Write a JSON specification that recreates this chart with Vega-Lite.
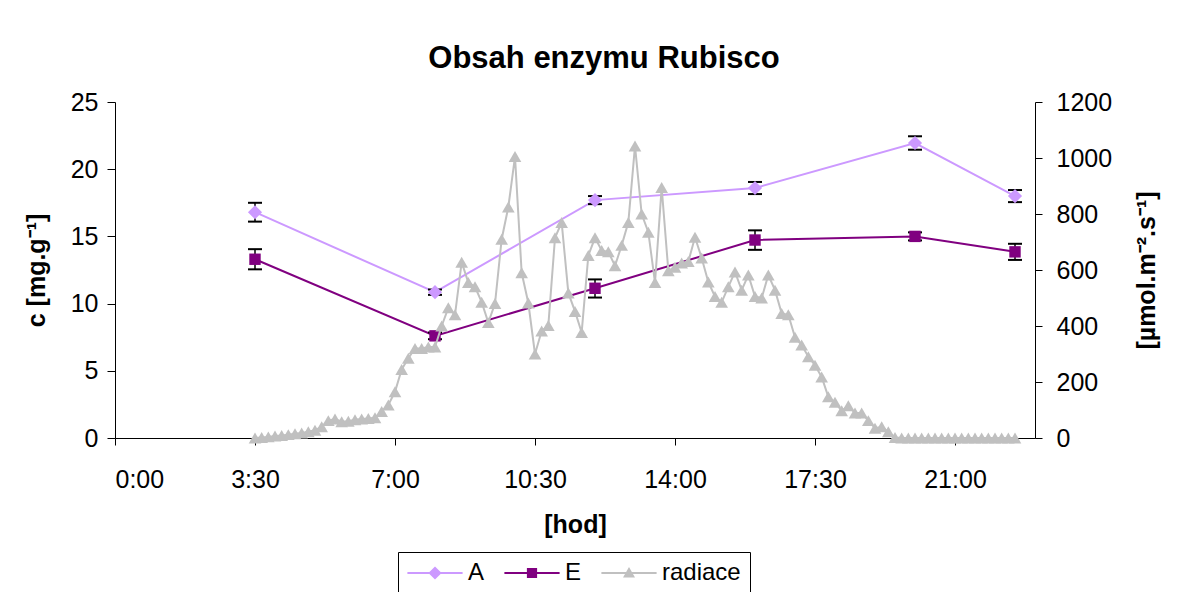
{
  "$schema": "https://vega.github.io/schema/vega-lite/v6.json",
  "width": 920,
  "height": 336,
  "autosize": {"type": "none"},
  "padding": {"left": 115, "top": 102, "right": 147, "bottom": 154},
  "background": "white",
  "title": {"text": "Obsah enzymu Rubisco", "fontSize": 31, "fontWeight": "bold", "font": "Liberation Sans", "color": "black", "anchor": "middle", "dx": 29, "offset": 15},
  "datasets": {
    "rub": [
      {"t": 210, "series": "A", "c": 16.8, "lo": 16.1, "hi": 17.5},
      {"t": 480, "series": "A", "c": 10.85, "lo": 10.65, "hi": 11.05},
      {"t": 720, "series": "A", "c": 17.7, "lo": 17.4, "hi": 18.0},
      {"t": 960, "series": "A", "c": 18.6, "lo": 18.15, "hi": 19.05},
      {"t": 1200, "series": "A", "c": 21.95, "lo": 21.45, "hi": 22.45},
      {"t": 1350, "series": "A", "c": 18.0, "lo": 17.55, "hi": 18.45},
      {"t": 210, "series": "E", "c": 13.3, "lo": 12.55, "hi": 14.05},
      {"t": 480, "series": "E", "c": 7.6, "lo": 7.35, "hi": 7.85},
      {"t": 720, "series": "E", "c": 11.14, "lo": 10.45, "hi": 11.8},
      {"t": 960, "series": "E", "c": 14.73, "lo": 14.0, "hi": 15.45},
      {"t": 1200, "series": "E", "c": 15.0, "lo": 14.7, "hi": 15.3},
      {"t": 1350, "series": "E", "c": 13.85, "lo": 13.25, "hi": 14.45}
    ],
    "rad": [
      {"t": 210, "series": "radiace", "r": 0},
      {"t": 220, "series": "radiace", "r": 2},
      {"t": 230, "series": "radiace", "r": 4},
      {"t": 240, "series": "radiace", "r": 7},
      {"t": 250, "series": "radiace", "r": 9},
      {"t": 260, "series": "radiace", "r": 12},
      {"t": 270, "series": "radiace", "r": 15},
      {"t": 280, "series": "radiace", "r": 18},
      {"t": 290, "series": "radiace", "r": 22},
      {"t": 300, "series": "radiace", "r": 28},
      {"t": 310, "series": "radiace", "r": 40},
      {"t": 320, "series": "radiace", "r": 62},
      {"t": 330, "series": "radiace", "r": 68},
      {"t": 340, "series": "radiace", "r": 58},
      {"t": 350, "series": "radiace", "r": 60},
      {"t": 360, "series": "radiace", "r": 65},
      {"t": 370, "series": "radiace", "r": 68},
      {"t": 380, "series": "radiace", "r": 70},
      {"t": 390, "series": "radiace", "r": 72},
      {"t": 400, "series": "radiace", "r": 95},
      {"t": 410, "series": "radiace", "r": 118},
      {"t": 420, "series": "radiace", "r": 165},
      {"t": 430, "series": "radiace", "r": 245},
      {"t": 440, "series": "radiace", "r": 285},
      {"t": 450, "series": "radiace", "r": 320},
      {"t": 460, "series": "radiace", "r": 320},
      {"t": 470, "series": "radiace", "r": 325},
      {"t": 480, "series": "radiace", "r": 325},
      {"t": 490, "series": "radiace", "r": 400},
      {"t": 500, "series": "radiace", "r": 465},
      {"t": 510, "series": "radiace", "r": 440},
      {"t": 520, "series": "radiace", "r": 628},
      {"t": 530, "series": "radiace", "r": 555},
      {"t": 540, "series": "radiace", "r": 540},
      {"t": 550, "series": "radiace", "r": 485},
      {"t": 560, "series": "radiace", "r": 412},
      {"t": 570, "series": "radiace", "r": 480},
      {"t": 580, "series": "radiace", "r": 710},
      {"t": 590, "series": "radiace", "r": 825},
      {"t": 600, "series": "radiace", "r": 1005},
      {"t": 610, "series": "radiace", "r": 590},
      {"t": 620, "series": "radiace", "r": 482},
      {"t": 630, "series": "radiace", "r": 300},
      {"t": 640, "series": "radiace", "r": 382},
      {"t": 650, "series": "radiace", "r": 402},
      {"t": 660, "series": "radiace", "r": 715},
      {"t": 670, "series": "radiace", "r": 770},
      {"t": 680, "series": "radiace", "r": 518},
      {"t": 690, "series": "radiace", "r": 452},
      {"t": 700, "series": "radiace", "r": 377},
      {"t": 710, "series": "radiace", "r": 652},
      {"t": 720, "series": "radiace", "r": 715},
      {"t": 730, "series": "radiace", "r": 670},
      {"t": 740, "series": "radiace", "r": 665},
      {"t": 750, "series": "radiace", "r": 615},
      {"t": 760, "series": "radiace", "r": 688},
      {"t": 770, "series": "radiace", "r": 770},
      {"t": 780, "series": "radiace", "r": 1043},
      {"t": 790, "series": "radiace", "r": 800},
      {"t": 800, "series": "radiace", "r": 735},
      {"t": 810, "series": "radiace", "r": 555},
      {"t": 820, "series": "radiace", "r": 895},
      {"t": 830, "series": "radiace", "r": 597},
      {"t": 840, "series": "radiace", "r": 610},
      {"t": 850, "series": "radiace", "r": 625},
      {"t": 860, "series": "radiace", "r": 630},
      {"t": 870, "series": "radiace", "r": 717},
      {"t": 880, "series": "radiace", "r": 643},
      {"t": 890, "series": "radiace", "r": 557},
      {"t": 900, "series": "radiace", "r": 505},
      {"t": 910, "series": "radiace", "r": 485},
      {"t": 920, "series": "radiace", "r": 540},
      {"t": 930, "series": "radiace", "r": 593},
      {"t": 940, "series": "radiace", "r": 528},
      {"t": 950, "series": "radiace", "r": 582},
      {"t": 960, "series": "radiace", "r": 505},
      {"t": 970, "series": "radiace", "r": 500},
      {"t": 980, "series": "radiace", "r": 582},
      {"t": 990, "series": "radiace", "r": 528},
      {"t": 1000, "series": "radiace", "r": 445},
      {"t": 1010, "series": "radiace", "r": 440},
      {"t": 1020, "series": "radiace", "r": 360},
      {"t": 1030, "series": "radiace", "r": 332},
      {"t": 1040, "series": "radiace", "r": 290},
      {"t": 1050, "series": "radiace", "r": 260},
      {"t": 1060, "series": "radiace", "r": 218},
      {"t": 1070, "series": "radiace", "r": 147},
      {"t": 1080, "series": "radiace", "r": 128},
      {"t": 1090, "series": "radiace", "r": 97},
      {"t": 1100, "series": "radiace", "r": 115},
      {"t": 1110, "series": "radiace", "r": 89},
      {"t": 1120, "series": "radiace", "r": 89},
      {"t": 1130, "series": "radiace", "r": 62},
      {"t": 1140, "series": "radiace", "r": 35},
      {"t": 1150, "series": "radiace", "r": 40},
      {"t": 1160, "series": "radiace", "r": 22},
      {"t": 1170, "series": "radiace", "r": 2},
      {"t": 1180, "series": "radiace", "r": 0},
      {"t": 1190, "series": "radiace", "r": 0},
      {"t": 1200, "series": "radiace", "r": 0},
      {"t": 1210, "series": "radiace", "r": 0},
      {"t": 1220, "series": "radiace", "r": 0},
      {"t": 1230, "series": "radiace", "r": 0},
      {"t": 1240, "series": "radiace", "r": 0},
      {"t": 1250, "series": "radiace", "r": 0},
      {"t": 1260, "series": "radiace", "r": 0},
      {"t": 1270, "series": "radiace", "r": 0},
      {"t": 1280, "series": "radiace", "r": 0},
      {"t": 1290, "series": "radiace", "r": 0},
      {"t": 1300, "series": "radiace", "r": 0},
      {"t": 1310, "series": "radiace", "r": 0},
      {"t": 1320, "series": "radiace", "r": 0},
      {"t": 1330, "series": "radiace", "r": 0},
      {"t": 1340, "series": "radiace", "r": 0},
      {"t": 1350, "series": "radiace", "r": 0}
    ]
  },
  "layer": [
    {
      "data": {"name": "rub"},
      "encoding": {
        "x": {
          "field": "t", "type": "quantitative",
          "scale": {"domain": [0, 1380], "nice": false, "zero": false},
          "axis": {
            "orient": "bottom", "values": [0, 210, 420, 630, 840, 1050, 1260],
            "labelExpr": "floor(datum.value / 60) + ':' + (datum.value % 60 == 0 ? '00' : '30')",
            "title": "[hod]", "tickSize": 7, "labelPadding": 22, "titlePadding": 20
          }
        }
      },
      "layer": [
        {
          "transform": [{"filter": "datum.t < 0"}],
          "mark": {"type": "point", "filled": true, "opacity": 1},
          "encoding": {
            "y": {"field": "c", "type": "quantitative"},
            "color": {
              "field": "series", "type": "nominal",
              "scale": {"domain": ["A", "E", "radiace"], "range": ["#CC99FF", "#800080", "#C0C0C0"]},
              "legend": {
                "orient": "none", "legendX": 283, "legendY": 450, "direction": "horizontal", "title": null,
                "labelFontSize": 24, "labelFont": "Liberation Sans", "labelColor": "black",
                "symbolSize": 144, "symbolOffset": 16, "labelOffset": 21, "columnPadding": 19, "padding": 9,
                "strokeColor": "black", "fillColor": "white", "symbolStrokeWidth": 0, "symbolOpacity": 1
              }
            },
            "shape": {
              "field": "series", "type": "nominal",
              "scale": {"domain": ["A", "E", "radiace"], "range": [
                "M-4.6,-0.17H4.6V0.17H-4.6Z M0,-1.1L1.1,0L0,1.1L-1.1,0Z",
                "M-4.6,-0.17H4.6V0.17H-4.6Z M-0.85,-0.85H0.85V0.85H-0.85Z",
                "M-4.6,-0.17H4.6V0.17H-4.6Z M0,-1L1,0.75H-1Z"
              ]},
              "legend": {
                "orient": "none", "legendX": 283, "legendY": 450, "direction": "horizontal", "title": null,
                "labelFontSize": 24, "labelFont": "Liberation Sans", "labelColor": "black",
                "symbolSize": 144, "symbolOffset": 16, "labelOffset": 21, "columnPadding": 19, "padding": 9,
                "strokeColor": "black", "fillColor": "white", "symbolStrokeWidth": 0, "symbolOpacity": 1
              }
            }
          }
        },
        {
          "mark": {"type": "line", "strokeWidth": 2},
          "encoding": {
            "y": {
              "field": "c", "type": "quantitative",
              "scale": {"domain": [0, 25], "nice": false},
              "axis": {"orient": "left", "values": [0, 5, 10, 15, 20, 25], "title": "c [mg.g⁻¹]", "tickSize": 8, "labelPadding": 9, "titlePadding": 21}
            },
            "color": {"field": "series", "type": "nominal"}
          }
        },
        {
          "mark": {"type": "rule", "color": "black", "strokeWidth": 1.5},
          "encoding": {
            "y": {"field": "lo", "type": "quantitative"},
            "y2": {"field": "hi"}
          }
        },
        {
          "mark": {"type": "tick", "orient": "horizontal", "color": "black", "size": 14, "thickness": 2, "opacity": 1},
          "encoding": {"y": {"field": "lo", "type": "quantitative"}}
        },
        {
          "mark": {"type": "tick", "orient": "horizontal", "color": "black", "size": 14, "thickness": 2, "opacity": 1},
          "encoding": {"y": {"field": "hi", "type": "quantitative"}}
        },
        {
          "transform": [{"filter": "datum.series === 'A'"}],
          "mark": {"type": "point", "filled": true, "opacity": 1, "shape": "diamond", "size": 200},
          "encoding": {
            "y": {"field": "c", "type": "quantitative"},
            "color": {"field": "series", "type": "nominal"}
          }
        },
        {
          "transform": [{"filter": "datum.series === 'E'"}],
          "mark": {"type": "point", "filled": true, "opacity": 1, "shape": "square", "size": 130},
          "encoding": {
            "y": {"field": "c", "type": "quantitative"},
            "color": {"field": "series", "type": "nominal"}
          }
        }
      ]
    },
    {
      "data": {"name": "rad"},
      "encoding": {
        "x": {"field": "t", "type": "quantitative"},
        "y": {
          "field": "r", "type": "quantitative",
          "scale": {"domain": [0, 1200], "nice": false},
          "axis": {"orient": "right", "values": [0, 200, 400, 600, 800, 1000, 1200], "format": "d", "title": "[µmol.m⁻².s⁻¹]", "titleAngle": 270, "tickSize": 7, "labelPadding": 14, "titlePadding": 48}
        },
        "color": {"field": "series", "type": "nominal"}
      },
      "layer": [
        {"mark": {"type": "line", "strokeWidth": 2}},
        {
          "mark": {"type": "point", "filled": true, "opacity": 1, "shape": "triangle-up", "size": 160}
        }
      ]
    }
  ],
  "resolve": {"scale": {"y": "independent"}},
  "config": {
    "view": {"stroke": null},
    "font": "Liberation Sans",
    "axis": {
      "grid": false, "domainColor": "black", "tickColor": "black", "labelColor": "black", "titleColor": "black",
      "labelFont": "Liberation Sans", "titleFont": "Liberation Sans", "labelFontSize": 25, "titleFontSize": 25,
      "titleFontWeight": "bold", "domainWidth": 1, "tickWidth": 1
    }
  }
}
